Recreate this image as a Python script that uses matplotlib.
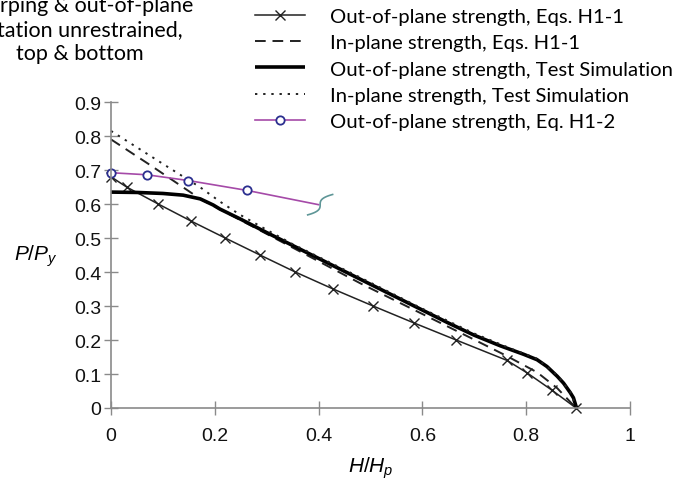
import matplotlib
matplotlib.use("Agg")
import matplotlib.pyplot as plt
import numpy as np

plt.rcParams['font.family'] = 'Liberation Sans'
plt.rcParams['mathtext.fontset'] = 'custom'
plt.rcParams['mathtext.it'] = 'Liberation Sans:italic'
plt.rcParams['mathtext.rm'] = 'Liberation Sans'

# Out-of-plane strength, Eqs. H1-1 (crossed line)
oop_h11_h = [0, 0.03, 0.091, 0.154, 0.22, 0.287, 0.355, 0.428, 0.505, 0.584, 0.665, 0.763, 0.802, 0.85, 0.896]
oop_h11_p = [0.68, 0.65, 0.60, 0.55, 0.50, 0.45, 0.40, 0.35, 0.30, 0.25, 0.20, 0.14, 0.103, 0.052, 0]

# In-plane strength, Eqs. H1-1 (dashed)
ip_h11_h = [0, 0.075, 0.172, 0.3, 0.48, 0.692, 0.76, 0.821, 0.86, 0.896]
ip_h11_p = [0.79, 0.715, 0.615, 0.512, 0.367, 0.207, 0.155, 0.105, 0.058, 0]

# Out-of-plane strength, Test Simulation (thick solid)
oop_sim_h = [0, 0.05, 0.1, 0.139, 0.172, 0.197, 0.21, 0.249, 0.3, 0.4, 0.48, 0.6, 0.65, 0.7, 0.75,
             0.795, 0.821, 0.84, 0.86, 0.872, 0.885, 0.891, 0.897]
oop_sim_p = [0.635, 0.634, 0.631, 0.626, 0.615, 0.597, 0.585, 0.556, 0.516, 0.44, 0.379, 0.288,
             0.25, 0.214, 0.183, 0.158, 0.142, 0.122, 0.093, 0.073, 0.045, 0.03, 0]

# In-plane strength, Test Simulation (dotted)
ip_sim_h = [0, 0.1, 0.172, 0.21, 0.249, 0.3, 0.35, 0.48, 0.6, 0.7, 0.77, 0.821, 0.86, 0.885, 0.897]
ip_sim_p = [0.815, 0.718, 0.649, 0.607, 0.568, 0.524, 0.482, 0.384, 0.292, 0.219, 0.175, 0.145, 0.096, 0.047, 0]

# Out-of-plane strength, Eq. H1-2 (purple, circles)
oop_h12_h = [0, 0.069, 0.149, 0.262, 0.40]
oop_h12_p = [0.692, 0.686, 0.669, 0.640, 0.598]

labels = ["Out-of-plane strength, Eqs. H1-1",
          "In-plane strength, Eqs. H1-1",
          "Out-of-plane strength, Test Simulation",
          "In-plane strength, Test Simulation",
          "Out-of-plane strength, Eq. H1-2"]

x_ticks = [0, 0.2, 0.4, 0.6, 0.8, 1]
y_ticks = [0, 0.1, 0.2, 0.3, 0.4, 0.5, 0.6, 0.7, 0.8, 0.9]

fig = plt.figure(figsize=(6.76, 4.85), dpi=100)
ax = fig.add_axes([111 / 676, 1 - 409 / 485, 519 / 676, 306 / 485])

l1, = ax.plot(oop_h11_h, oop_h11_p, color='#222222', lw=1.1, marker='x', ms=7, mew=1.0, clip_on=False)
l2, = ax.plot(ip_h11_h, ip_h11_p, color='#222222', lw=1.4, linestyle=(0, (5.5, 3.5)), clip_on=False)
l3, = ax.plot(oop_sim_h, oop_sim_p, color='black', lw=2.6, clip_on=False, solid_capstyle='butt')
l4, = ax.plot(ip_sim_h, ip_sim_p, color='#222222', lw=1.4, linestyle=(0, (1.2, 3.0)), clip_on=False)
l5, = ax.plot(oop_h12_h, oop_h12_p, color='#a54aa8', lw=1.2, marker='o', ms=6,
              mfc='white', mec='#2b2f8f', mew=1.3, markevery=[0, 1, 2, 3], clip_on=False)

# break symbol at the end of the Eq. H1-2 line
t = np.linspace(-1, 1, 40)
ax.plot(oop_h12_h[-1] + 0.003 + 0.024 * t ** 3, oop_h12_p[-1] + 0.03 * t,
        color='#5e9697', lw=1.2, clip_on=False)

ax.set_xlim(0, 1)
ax.set_ylim(0, 0.9)
ax.set_xticks(x_ticks)
ax.set_xticklabels(['0', '0.2', '0.4', '0.6', '0.8', '1'])
ax.set_yticks(y_ticks)
ax.set_yticklabels(['0', '0.1', '0.2', '0.3', '0.4', '0.5', '0.6', '0.7', '0.8', '0.9'])

for side in ['top', 'right']:
    ax.spines[side].set_visible(False)
for side in ['left', 'bottom']:
    ax.spines[side].set_color('#8a8a8a')
    ax.spines[side].set_linewidth(1.2)
ax.tick_params(axis='both', direction='inout', length=10, width=1.0, color='#8a8a8a',
               labelsize=14, labelcolor='#111111')
ax.tick_params(axis='x', pad=9)
ax.tick_params(axis='y', pad=2)

ax.set_xlabel('$H/H_p$', fontsize=15, va='center')
ax.xaxis.set_label_coords(0.5, -0.193)
ax.set_ylabel('$P/P_y$', fontsize=15, rotation=0, va='center', ha='center')
ax.yaxis.set_label_coords(-0.145, 0.5)

fig.legend([l1, l2, l3, l4, l5], labels, loc='upper left', bbox_to_anchor=(247 / 676, 1 - 1 / 485),
           frameon=False, prop={'family': 'Lato', 'size': 14.6},
           handlelength=2.46, handletextpad=1.23, labelspacing=0.44, numpoints=1,
           borderaxespad=0)

fig.text(80 / 676, 1 - 30 / 485, "Warping & out-of-plane\nrotation unrestrained,\ntop & bottom",
         ha='center', va='center', fontsize=15.5, family='Lato', linespacing=1.22)

fig.savefig('out.png', dpi=100)
